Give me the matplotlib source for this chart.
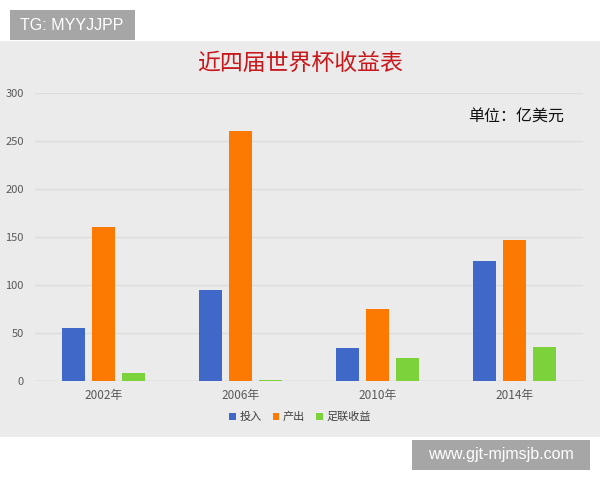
import matplotlib
matplotlib.use('Agg')
import matplotlib.pyplot as plt
import numpy as np
from matplotlib.patches import Rectangle

plt.rcParams['font.family'] = ['Noto Sans CJK SC', 'DejaVu Sans']

# data (亿美元)
years = ['2002年', '2006年', '2010年', '2014年']
touru = [55, 94, 34, 125]
chanchu = [160, 260, 75, 147]
zulian = [8, 1, 24, 35]
series_names = ['投入', '产出', '足联收益']
colors = ['#3f68c8', '#fc7a02', '#7bd23a']

fig = plt.figure(figsize=(6, 4.8), dpi=100)
fig.patch.set_facecolor('white')

# gray chart panel
fig.patches.append(Rectangle((0, (480 - 437) / 480), 1, (437 - 41) / 480,
                             transform=fig.transFigure, facecolor='#ebebeb',
                             edgecolor='none', zorder=-5))

ax = fig.add_axes([35 / 600, (480 - 380.7) / 480, 548 / 600, 288 / 480])
ax.set_facecolor('none')
ax.set_zorder(3)

x = np.arange(len(years))
w = 0.175
off = 0.219
for i, vals in enumerate([touru, chanchu, zulian]):
    ax.bar(x + (i - 1) * off, vals, width=w, color=colors[i],
           label=series_names[i], zorder=3)

ax.set_xlim(-0.5, 3.5)
ax.set_ylim(0, 300)
ax.set_yticks(range(0, 301, 50))
ax.set_xticks(x)
ax.set_xticklabels(years)
ax.grid(axis='y', color='#dcdcdc', linewidth=1, zorder=0)
ax.axhline(0, color='#cfcfcf', linewidth=1, zorder=2)
for s in ax.spines.values():
    s.set_visible(False)
ax.tick_params(axis='both', length=0, colors='#595959')
ax.tick_params(axis='y', pad=8, labelsize=8)
ax.tick_params(axis='x', pad=6, labelsize=8.5)

leg = fig.legend(loc='center', bbox_to_anchor=(0.5, (480 - 417) / 480), ncol=3,
                 frameon=False, fontsize=8, handlelength=0.6, handleheight=0.6,
                 handletextpad=0.3, columnspacing=1.0)
for t in leg.get_texts():
    t.set_color('#404040')

fig.text(0.5, (480 - 63) / 480, '近四届世界杯收益表', ha='center', va='center',
         fontsize=16.5, color='#c8181c', fontweight='medium')
fig.text(564 / 600, (480 - 116) / 480, '单位：亿美元', ha='right', va='center',
         fontsize=11.5, color='#111111')

# watermark boxes
fig.patches.append(Rectangle((10 / 600, (480 - 40) / 480), 125 / 600, 30 / 480,
                             transform=fig.transFigure, facecolor='#a6a6a6',
                             edgecolor='none', zorder=1))
fig.text(72 / 600, (480 - 25) / 480, 'TG: MYYJJPP', ha='center', va='center',
         fontsize=11.5, color='white', family='Liberation Sans')
fig.patches.append(Rectangle((412 / 600, (480 - 470) / 480), 178 / 600, 30 / 480,
                             transform=fig.transFigure, facecolor='#a6a6a6',
                             edgecolor='none', zorder=1))
fig.text(501 / 600, (480 - 455) / 480, 'www.gjt-mjmsjb.com', ha='center', va='center',
         fontsize=11.5, color='white', family='Liberation Sans')

fig.savefig('out.png', dpi=100, facecolor=fig.get_facecolor())
